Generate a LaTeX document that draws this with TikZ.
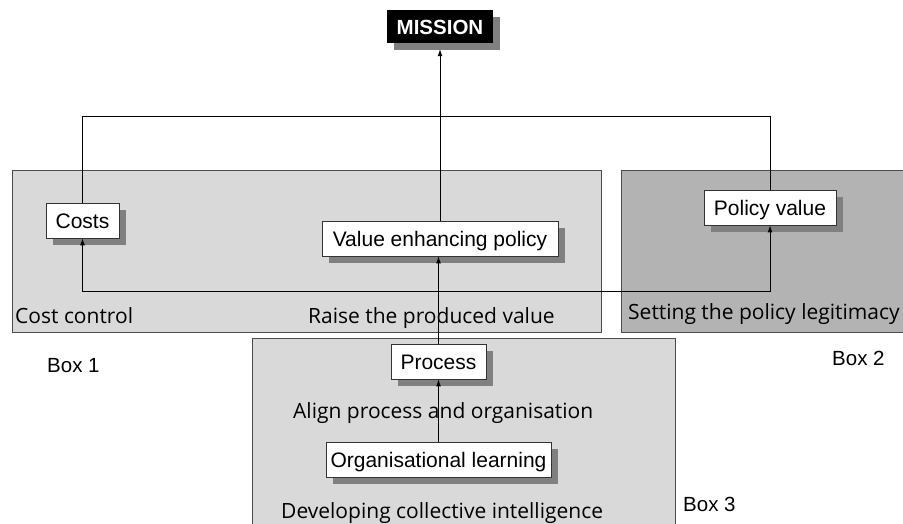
\documentclass[tikz,border=0pt]{standalone}
\usepackage{fontspec}
\setmainfont{Liberation Sans}
\newfontfamily\handfont{Open Sans}
\usetikzlibrary{shadows,arrows.meta}
\definecolor{panellight}{HTML}{D9D9D9}
\definecolor{paneldark}{HTML}{B3B3B3}
\definecolor{shadowgray}{HTML}{808080}
\begin{document}
\begin{tikzpicture}[x=1pt,y=-1pt,
  panel/.style={draw=black!70, line width=0.8pt},
  item/.style={draw=black!80, fill=white, line width=0.8pt, minimum height=35pt,
    inner sep=0pt, text height=15pt, text depth=0pt, font=\fontsize{21}{24}\selectfont,
    drop shadow={shadow xshift=7pt, shadow yshift=-7pt, fill=shadowgray, opacity=1}},
  caption/.style={anchor=base west, inner sep=0pt, font=\handfont\fontsize{21}{24}\selectfont},
  boxlabel/.style={anchor=base west, inner sep=0pt, font=\fontsize{20.5}{24}\selectfont},
  link/.style={line width=0.9pt, black},
  tip/.style={link, -{Latex[length=7pt,width=5pt]}},
  twotips/.style={link, {Latex[length=7pt,width=5pt]}-{Latex[length=7pt,width=5pt]}}
]
\useasboundingbox (0,0) rectangle (903,523);

% background panels
\begin{scope}
\clip (0,0) rectangle (903,523);
\draw[panel, fill=panellight] (12,170) rectangle (601,332);
\draw[panel, fill=paneldark] (621,170) rectangle (915,332);
\draw[panel, fill=panellight] (252,338) rectangle (675,535);
\end{scope}

% helper levels for the horizontal runs
\coordinate (bus) at (0,116.5);
\coordinate (fb) at (0,291);

% nodes
\node[fill=black, text=white, minimum width=106pt, minimum height=33pt, inner sep=0pt,
  text height=15pt, text depth=0pt,
  font=\bfseries\fontsize{20.5}{24}\selectfont,
  drop shadow={shadow xshift=7pt, shadow yshift=-7pt, fill=shadowgray, opacity=1}]
  (mission) at (440,26.5) {MISSION};
\node[item, minimum width=73pt]  (costs)   at (82.5,220.5) {Costs};
\node[item, minimum width=236pt] (vep)     at (440,238.5)  {Value enhancing policy};
\node[item, minimum width=132pt] (pv)      at (770,207.5)  {Policy value};
\node[item, minimum width=95pt]  (process) at (438.5,361.5) {Process};
\node[item, minimum width=225pt] (org)     at (438.5,459.5) {Organisational learning};

% connectors
\draw[tip] (vep.north) -- ([yshift=-6pt]mission.south);
\draw[link] (costs.north) -- (costs.north |- bus) -- (pv.north |- bus) -- (pv.north);
\draw[twotips] (costs.south) -- (costs.south |- fb) -- (pv.south |- fb) -- (pv.south);
\draw[tip] (process.north) -- (process.north |- vep.south);
\draw[tip] (org.north) -- (process.south);

% panel captions
\node[caption] (cap1) at (15,323)   {Cost control};
\node[caption] (cap2) at (308,323)  {Raise the produced value};
\node[caption] (cap3) at (628,319.5) {Setting the policy legitimacy};
\node[caption] (cap4) at (293,418)  {Align process and organisation};
\node[caption] (cap5) at (281,518)  {Developing collective intelligence};

% box labels
\node[boxlabel] (b1) at (47,372)  {Box 1};
\node[boxlabel] (b2) at (832,365) {Box 2};
\node[boxlabel] (b3) at (683,511) {Box 3};
\end{tikzpicture}
\end{document}
